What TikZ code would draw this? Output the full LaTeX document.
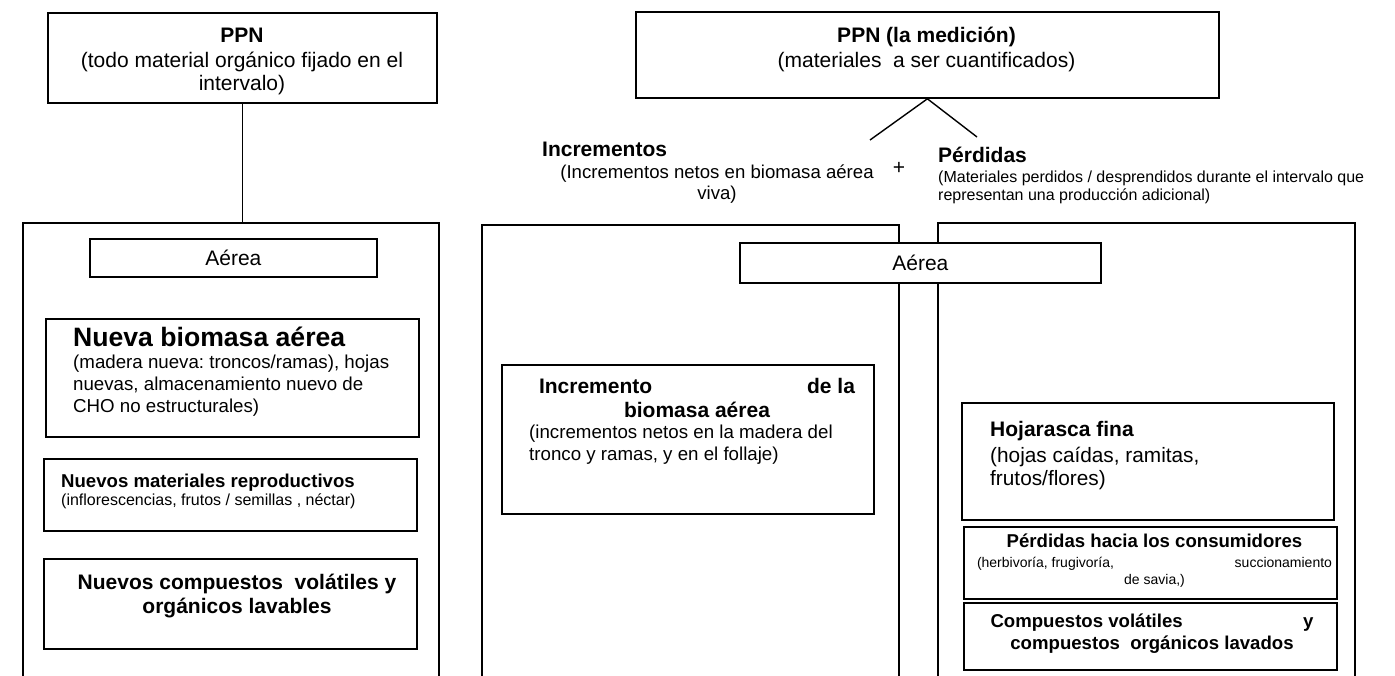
\documentclass[tikz,border=0pt]{standalone}
\usepackage{fontspec}
\setmainfont{Liberation Sans}
\usepackage{tikz}
\newcommand{\fsz}[2]{\fontsize{#1}{#2}\selectfont}
\frenchspacing

\begin{document}
\begin{tikzpicture}[x=1pt, y=-1pt,
  frame/.style={draw, line width=1.8pt, fill=white, inner sep=0pt, anchor=north west},
  bigframe/.style={frame, fill=none, minimum width=417pt, minimum height=500pt},
  txt/.style={inner sep=0pt},
  link/.style={line width=1.4pt}]
\useasboundingbox (0,0) rectangle (1395,675);
\clip (0,0) rectangle (1395,675);
\fill [white] (0,0) rectangle (1395,675);
\node [bigframe, minimum width=416pt] (bigL) at (22,222) {};
\node [bigframe] (bigM) at (481,224) {};
\node [bigframe] (bigR) at (937,222) {};
\node [frame, minimum width=389pt, minimum height=90pt] (ppnL) at (47,12) {};
\node [txt, anchor=north, align=center, font={\fsz{21}{22.5}}] (ppnLtxt) at (242,28) {\textbf{PPN}\\[2.5pt](todo material orgánico fijado en el\\intervalo)};
\draw [link] (ppnL.south) -- (ppnL.south |- bigL.north);
\node [frame, minimum width=287pt, minimum height=38pt, font={\fsz{21}{24}}] (aerL) at (89,238) {Aérea};
\node [frame, minimum width=373pt, minimum height=118pt] (nbBox) at (45,318) {};
\node [txt, anchor=base west, font={\fsz{26.6}{30}\bfseries}] (nbTit) at (73,346) {Nueva biomasa aérea};
\node [txt, anchor=north west, align=left, font={\fsz{18.7}{22}}] (nbTxt) at (73,355) {(madera nueva: troncos/ramas), hojas\\nuevas, almacenamiento nuevo de\\CHO no estructurales)};
\node [frame, minimum width=373pt, minimum height=72pt] (nmBox) at (43,458) {};
\node [txt, anchor=base west, font={\fsz{18.6}{21}\bfseries}] (nmTit) at (61,487) {Nuevos materiales reproductivos};
\node [txt, anchor=base west, font={\fsz{16}{18}}] (nmTxt) at (61,505) {(inflorescencias, frutos / semillas , néctar)};
\node [frame, minimum width=373pt, minimum height=90pt] (ncBox) at (43,558) {};
\node [txt, anchor=north, align=center, font={\fsz{21}{24}\bfseries}] (ncTit) at (237,574) {Nuevos compuestos~ volátiles y\\orgánicos lavables};
\node [frame, minimum width=583pt, minimum height=86pt] (ppnR) at (635,11) {};
\node [txt, anchor=north, align=center, font={\fsz{21}{22.5}}] (ppnRtxt) at (926.5,27) {\textbf{PPN (la medición)}\\[2.5pt](materiales~ a ser cuantificados)};
\coordinate (incEnd) at (870,140);
\coordinate (perEnd) at (977,137);
\draw [link] (incEnd) -- (ppnR.south) -- (perEnd);
\node [txt, anchor=base west, font={\fsz{21}{24}\bfseries}] (incTit) at (542,156) {Incrementos};
\node [txt, anchor=north, align=center, font={\fsz{18.6}{21}}] (incTxt) at (717,165) {(Incrementos netos en biomasa aérea\\viva)};
\node [txt, font={\fsz{21}{24}}] (plus) at (899,168) {+};
\node [txt, anchor=base west, font={\fsz{21}{24}\bfseries}] (perTit) at (938,162) {Pérdidas};
\node [txt, anchor=north west, align=left, font={\fsz{16}{17.5}}] (perTxt) at (938,171) {(Materiales perdidos / desprendidos durante el intervalo que\\representan una producción adicional)};
\node [frame, minimum width=361pt, minimum height=40pt, font={\fsz{21}{24}}] (aerR) at (739,242) {Aérea};
\node [frame, minimum width=372pt, minimum height=149pt] (ibBox) at (501,364) {};
\node [txt, anchor=north, align=center, font={\fsz{21}{24}\bfseries}] (ibTit) at (697,378) {\hbox to 316pt{Incremento\hfill de la}\\biomasa aérea};
\node [txt, anchor=north west, align=left, font={\fsz{18.7}{22}}] (ibTxt) at (529,425) {(incrementos netos en la madera del\\tronco y ramas, y en el follaje)};
\node [frame, minimum width=372pt, minimum height=117pt] (hfBox) at (961,402) {};
\node [txt, anchor=base west, font={\fsz{21}{24}\bfseries}] (hfTit) at (990,436) {Hojarasca fina};
\node [txt, anchor=north west, align=left, font={\fsz{20.8}{23}}] (hfTxt) at (990,447) {(hojas caídas, ramitas,\\frutos/flores)};
\node [frame, minimum width=373pt, minimum height=72pt] (pcBox) at (963,526) {};
\node [txt, anchor=base, font={\fsz{18.6}{21}\bfseries}] (pcTit) at (1154.5,547) {Pérdidas hacia los consumidores};
\node [txt, anchor=north, align=center, font={\fsz{14}{17}}] (pcTxt) at (1154.5,557) {\hbox to 355pt{(herbivoría, frugivoría,\hfill succionamiento}\\de savia,)};
\node [frame, minimum width=373pt, minimum height=67pt] (cvBox) at (963,602) {};
\node [txt, anchor=north, align=center, font={\fsz{18.6}{21.5}\bfseries}] (cvTit) at (1152,614) {\hbox to 323pt{Compuestos volátiles\hfill y}\\compuestos~ orgánicos lavados};
\end{tikzpicture}
\end{document}
